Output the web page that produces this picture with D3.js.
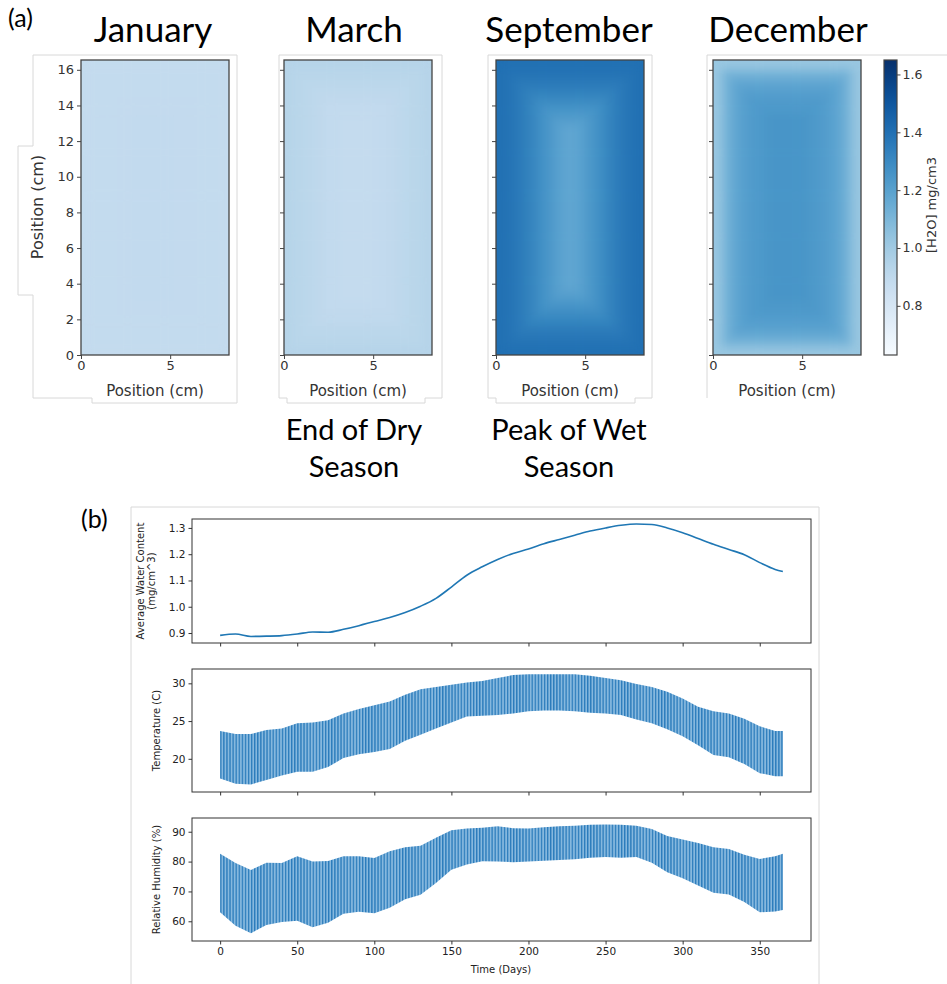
<!DOCTYPE html>
<html>
<head>
<meta charset="utf-8">
<script src="https://cdn.jsdelivr.net/npm/d3@7"></script>
<style>
  body { margin: 0; background: #fff; }
  text { font-family: "DejaVu Sans", sans-serif; }
  .big { font-family: Lato, "Open Sans", sans-serif; }
</style>
</head>
<body>
<svg id="fig" width="947" height="984"></svg>
<script>
// ---------- panel (a): water content maps ----------
const months = ["January", "March", "September", "December"];
const notes = [null, ["End of Dry", "Season"], ["Peak of Wet", "Season"], null];
// ring values from outer edge to centre, mg/cm3
const ringsJan = [0.884, 0.885, 0.886, 0.887, 0.888, 0.888, 0.889, 0.889];
const ringsMar = [0.935, 0.925, 0.915, 0.905, 0.896, 0.889, 0.884, 0.882];
const ringsSep = [1.40, 1.385, 1.36, 1.33, 1.29, 1.25, 1.21, 1.18];
const ringsDec = [1.02, 1.12, 1.18, 1.21, 1.23, 1.24, 1.25, 1.25];
const mapTicksY = [0, 2, 4, 6, 8, 10, 12, 14, 16];
const mapTicksX = [0, 5];
const cbTicks = [0.8, 1.0, 1.2, 1.4, 1.6];

// ---------- panel (b): time series ----------
const days = [0, 10, 20, 30, 40, 50, 60, 70, 80, 90, 100, 110, 120, 130, 140, 150, 160, 170, 180,
  190, 200, 210, 220, 230, 240, 250, 260, 270, 280, 290, 300, 310, 320, 330, 340, 350, 360, 365];
const waterContent = [0.891, 0.896, 0.887, 0.888, 0.890, 0.896, 0.904, 0.903, 0.914, 0.928, 0.944,
  0.959, 0.978, 1.002, 1.032, 1.075, 1.120, 1.152, 1.180, 1.203, 1.220, 1.240, 1.256, 1.272, 1.288,
  1.300, 1.310, 1.315, 1.313, 1.300, 1.282, 1.260, 1.238, 1.218, 1.198, 1.168, 1.142, 1.134];
const tempHigh = [23.7, 23.3, 23.3, 23.8, 24.0, 24.7, 24.8, 25.1, 26.0, 26.6, 27.1, 27.6, 28.5, 29.2,
  29.5, 29.8, 30.1, 30.3, 30.7, 31.1, 31.2, 31.2, 31.2, 31.2, 31.0, 30.7, 30.4, 29.9, 29.5, 28.9,
  28.0, 26.9, 26.3, 26.0, 25.3, 24.3, 23.7, 23.7];
const tempLow = [17.4, 16.7, 16.6, 17.2, 17.8, 18.3, 18.3, 18.9, 20.1, 20.6, 20.9, 21.3, 22.4, 23.2,
  24.0, 24.8, 25.6, 25.7, 25.8, 26.0, 26.3, 26.4, 26.4, 26.3, 26.1, 26.0, 25.8, 25.2, 24.7, 23.9,
  23.0, 21.8, 20.5, 20.2, 19.3, 18.1, 17.7, 17.7];
const rhHigh = [82.6, 79.5, 77.2, 79.6, 79.5, 81.8, 80.0, 80.2, 81.8, 81.8, 81.2, 83.5, 84.8, 85.3,
  88.0, 90.5, 91.1, 91.3, 91.8, 91.2, 91.1, 91.5, 91.8, 92.0, 92.3, 92.4, 92.3, 92.0, 90.9, 88.6,
  87.4, 86.2, 84.8, 84.2, 82.3, 80.9, 81.8, 82.6];
const rhLow = [63.0, 58.5, 56.0, 58.8, 59.8, 60.2, 58.0, 59.5, 62.5, 63.2, 62.7, 64.5, 67.4, 68.9,
  72.8, 77.3, 79.0, 80.1, 80.0, 79.8, 80.0, 80.3, 80.5, 80.8, 81.3, 81.5, 81.3, 81.5, 79.6, 76.4,
  74.4, 72.0, 69.6, 69.0, 66.5, 63.0, 63.3, 63.8];
const dayTicks = [0, 50, 100, 150, 200, 250, 300, 350];

const svg = d3.select("#fig");
const defs = svg.append("defs");
const ink = "#333";
const frameGray = "#d8d8d8";

// soft blur so the map looks like a smoothed image, alpha forced back to 1 at the borders
const smooth = defs.append("filter").attr("id", "smooth")
  .attr("color-interpolation-filters", "sRGB");
smooth.append("feGaussianBlur").attr("stdDeviation", 5);
smooth.append("feComponentTransfer").append("feFuncA").attr("type", "table").attr("tableValues", "1 1");

// panel letters
svg.append("text").attr("class", "big").attr("x", 8).attr("y", 27)
  .style("font-size", "25px").text("(a)");
svg.append("text").attr("class", "big").attr("x", 81).attr("y", 528)
  .style("font-size", "25px").text("(b)");

// ---------- panel (a) ----------
const allRings = [ringsJan, ringsMar, ringsSep, ringsDec];
const color = d3.scaleSequential(d3.interpolateBlues).domain([0.63, 1.65]);
const nx = 16, ny = 32, fieldW = 8.3, fieldH = 16.55;
const mapLeft = [81, 284, 496, 713], mapTop = 60, mapW = 148, mapH = 295;
const titleX = [153, 354, 569, 788];
const frames = [[33, 237], [279, 442], [488, 652], [707, 947]];

months.forEach(function (m, k) {
  const x = d3.scaleLinear().domain([0, fieldW]).range([mapLeft[k], mapLeft[k] + mapW]);
  const y = d3.scaleLinear().domain([0, fieldH]).range([mapTop + mapH, mapTop]);
  const g = svg.append("g");

  // screenshot frame
  const fx = frames[k];
  if (k === 0) {
    g.append("path")
      .attr("d", "M" + fx[1] + ",55H" + fx[0] + "V146H18V295H" + fx[0] + "V398H92V403H" + fx[1] + "Z")
      .attr("fill", "none").attr("stroke", frameGray);
  } else {
    g.append("path")
      .attr("d", "M" + fx[0] + ",398V55H" + fx[1] + (k === 3 ? "" : "V398H" + (fx[1] - 17) + "V403H" + (fx[0] + 8) + "V398Z"))
      .attr("fill", "none").attr("stroke", frameGray);
  }

  g.append("text").attr("class", "big").attr("x", titleX[k]).attr("y", 42)
    .attr("text-anchor", "middle").style("font-size", "35px").text(m);

  // cells
  const rings = allRings[k];
  const cells = [];
  for (let i = 0; i < nx; i++) {
    for (let j = 0; j < ny; j++) {
      const r = Math.min(i, nx - 1 - i, j, ny - 1 - j);
      cells.push({ i: i, j: j, v: rings[Math.min(r, rings.length - 1)] });
    }
  }
  const dx = fieldW / nx, dy = fieldH / ny;
  defs.append("clipPath").attr("id", "clip" + k).append("rect")
    .attr("x", mapLeft[k]).attr("y", mapTop).attr("width", mapW).attr("height", mapH);
  g.append("g").attr("clip-path", "url(#clip" + k + ")")
    .append("g").attr("filter", "url(#smooth)")
    .selectAll("rect.cell").data(cells).enter().append("rect")
    .attr("class", "cell")
    .attr("x", d => x(d.i * dx))
    .attr("y", d => y((d.j + 1) * dy))
    .attr("width", x(dx) - x(0) + 0.6)
    .attr("height", y(0) - y(dy) + 0.6)
    .attr("fill", d => color(d.v));

  g.append("rect").attr("x", mapLeft[k]).attr("y", mapTop).attr("width", mapW).attr("height", mapH)
    .attr("fill", "none").attr("stroke", "#444").attr("stroke-width", 1.3);

  const ax = g.append("g").attr("transform", "translate(0," + (mapTop + mapH) + ")")
    .call(d3.axisBottom(x).tickValues(mapTicksX).tickSize(4).tickPadding(2));
  const ay = g.append("g").attr("transform", "translate(" + mapLeft[k] + ",0)")
    .call(d3.axisLeft(y).tickValues(mapTicksY).tickSize(4).tickPadding(3)
      .tickFormat(k === 0 ? d3.format("d") : ""));
  [ax, ay].forEach(a => {
    a.select(".domain").remove();
    a.selectAll("line").attr("stroke", "#444");
    a.selectAll("text").attr("fill", ink).style("font-size", "13px");
  });

  g.append("text").attr("x", mapLeft[k] + mapW / 2).attr("y", 396)
    .attr("text-anchor", "middle").attr("fill", ink).style("font-size", "15px").text("Position (cm)");
  if (k === 0) {
    g.append("text").attr("transform", "translate(43,207) rotate(-90)")
      .attr("text-anchor", "middle").attr("fill", ink).style("font-size", "16px").text("Position (cm)");
  }
  if (notes[k]) {
    notes[k].forEach(function (line, n) {
      g.append("text").attr("class", "big").attr("x", titleX[k]).attr("y", 440 + n * 37)
        .attr("text-anchor", "middle").style("font-size", "29px").text(line);
    });
  }
});

// colorbar
const cbX = 884, cbW = 13;
const yCb = d3.scaleLinear().domain([0.63, 1.65]).range([mapTop + mapH, mapTop]);
const grad = defs.append("linearGradient").attr("id", "cb")
  .attr("x1", 0).attr("y1", 1).attr("x2", 0).attr("y2", 0);
d3.range(0, 1.0001, 0.05).forEach(t => {
  grad.append("stop").attr("offset", t).attr("stop-color", d3.interpolateBlues(t));
});
svg.append("rect").attr("x", cbX).attr("y", mapTop).attr("width", cbW).attr("height", mapH)
  .attr("fill", "url(#cb)").attr("stroke", "#444").attr("stroke-width", 1.2);
const cbAxis = svg.append("g").attr("transform", "translate(" + (cbX + cbW) + ",0)")
  .call(d3.axisRight(yCb).tickValues(cbTicks).tickFormat(d3.format(".1f")).tickSize(3.5).tickPadding(2));
cbAxis.select(".domain").remove();
cbAxis.selectAll("line").attr("stroke", "#444");
cbAxis.selectAll("text").attr("fill", ink).style("font-size", "12.5px");
svg.append("text").attr("transform", "translate(936,205) rotate(-90)")
  .attr("text-anchor", "middle").attr("fill", ink).style("font-size", "13px").text("[H2O] mg/cm3");

// ---------- panel (b) ----------
svg.append("path").attr("d", "M131,984V507H819V984").attr("fill", "none").attr("stroke", frameGray);

const x = d3.scaleLinear().domain([-18.25, 383.25]).range([192, 811]);
const rows = [
  { top: 519, bottom: 643, domain: [0.862, 1.334], ticks: [0.9, 1.0, 1.1, 1.2, 1.3], fmt: ".1f",
    label: ["Average Water Content", "(mg/cm^3)"] },
  { top: 669, bottom: 792, domain: [15.6, 31.9], ticks: [20, 25, 30], fmt: "d",
    label: ["Temperature (C)"] },
  { top: 818, bottom: 941, domain: [53.4, 94.6], ticks: [60, 70, 80, 90], fmt: "d",
    label: ["Relative Humidity (%)"] }
];

// daily cycling drawn as vertical stripes inside the band
const dayPx = x(2) - x(0);
const pat = defs.append("pattern").attr("id", "daily")
  .attr("patternUnits", "userSpaceOnUse").attr("x", x(0)).attr("y", 0)
  .attr("width", dayPx).attr("height", 20);
pat.append("rect").attr("width", dayPx).attr("height", 20).attr("fill", "#86b8de");
pat.append("rect").attr("width", 1.3).attr("height", 20).attr("fill", "#2a7bbb");

rows.forEach(function (r, k) {
  const y = d3.scaleLinear().domain(r.domain).range([r.bottom, r.top]);
  const g = svg.append("g");

  if (k === 0) {
    g.append("path").datum(days)
      .attr("d", d3.line().x(d => x(d)).y((d, i) => y(waterContent[i])).curve(d3.curveMonotoneX))
      .attr("fill", "none").attr("stroke", "#1f77b4").attr("stroke-width", 1.6);
  } else {
    const hi = k === 1 ? tempHigh : rhHigh;
    const lo = k === 1 ? tempLow : rhLow;
    g.append("path").datum(days)
      .attr("d", d3.area().x(d => x(d)).y0((d, i) => y(lo[i])).y1((d, i) => y(hi[i])))
      .attr("fill", "url(#daily)");
  }

  g.append("rect").attr("x", 192).attr("y", r.top).attr("width", 811 - 192).attr("height", r.bottom - r.top)
    .attr("fill", "none").attr("stroke", "#333").attr("stroke-width", 1);

  const ay = g.append("g").attr("transform", "translate(192,0)")
    .call(d3.axisLeft(y).tickValues(r.ticks).tickFormat(d3.format(r.fmt)).tickSize(3.5).tickPadding(3));
  const ax = g.append("g").attr("transform", "translate(0," + r.bottom + ")")
    .call(d3.axisBottom(x).tickValues(dayTicks).tickSize(3.5).tickPadding(3)
      .tickFormat(k === 2 ? d3.format("d") : ""));
  [ax, ay].forEach(a => {
    a.select(".domain").remove();
    a.selectAll("line").attr("stroke", "#333");
    a.selectAll("text").attr("fill", "#222").style("font-size", "10.5px");
  });

  const cy = (r.top + r.bottom) / 2;
  r.label.forEach(function (line, n) {
    const lx = r.label.length === 2 ? 144 + n * 11 : 160;
    g.append("text").attr("transform", "translate(" + lx + "," + cy + ") rotate(-90)")
      .attr("text-anchor", "middle").attr("fill", "#222").style("font-size", "10px").text(line);
  });
});

svg.append("text").attr("x", 501).attr("y", 973).attr("text-anchor", "middle")
  .attr("fill", "#222").style("font-size", "10px").text("Time (Days)");
</script>
</body>
</html>
